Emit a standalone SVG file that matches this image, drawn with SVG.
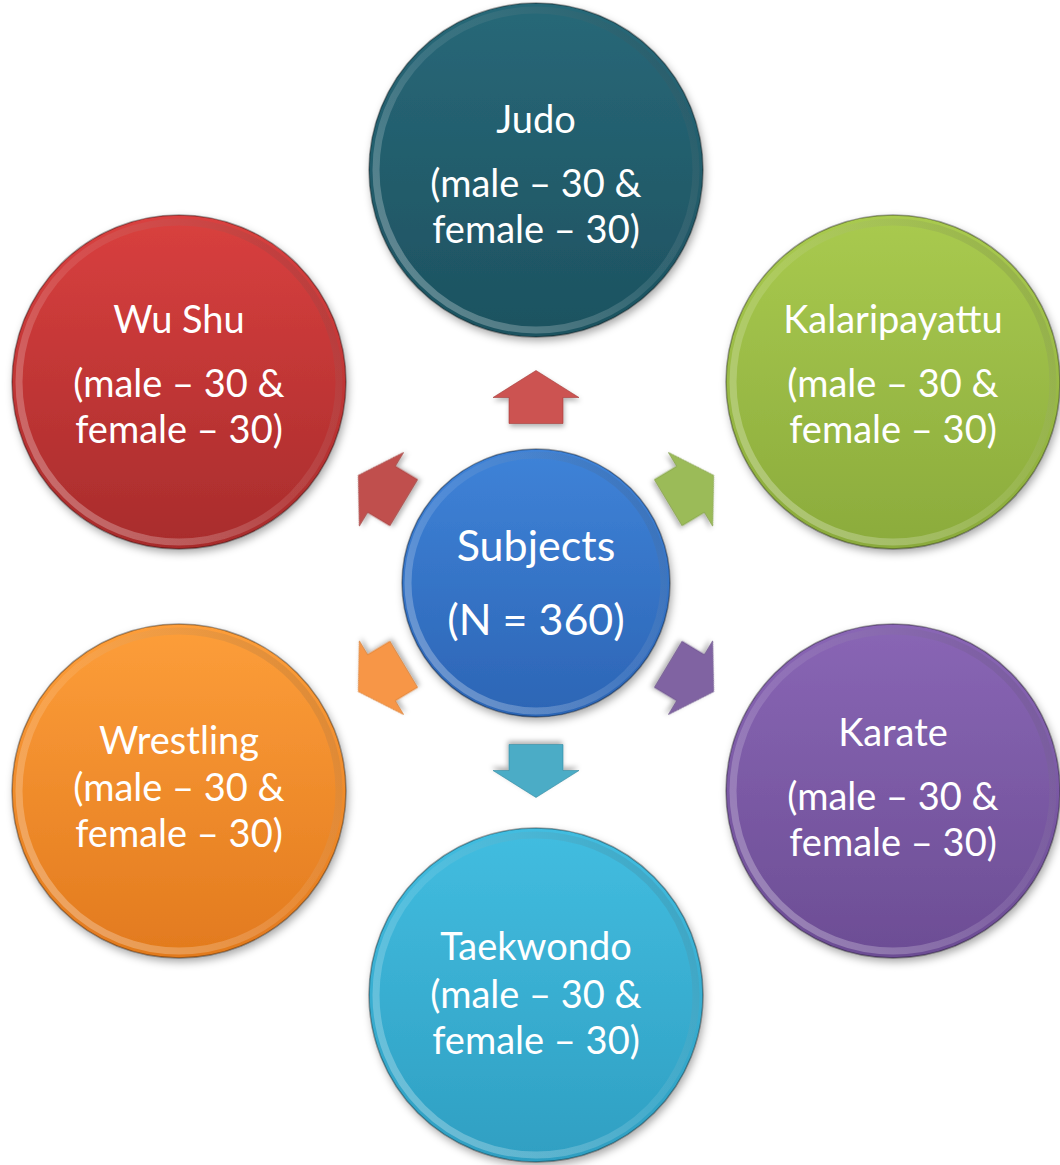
<svg xmlns="http://www.w3.org/2000/svg" width="1060" height="1165" viewBox="0 0 1060 1165">
<style>
text{font-family:Lato,"Liberation Sans",sans-serif;fill:#fff;text-anchor:middle;font-size:38px}
.big{font-size:43px}
.rim{fill:none;stroke:url(#rim);stroke-width:7}
.edge{fill:none;stroke:#000;stroke-opacity:.35;stroke-width:1.5}
.arr{stroke-width:1;stroke-opacity:.6;filter:url(#sh2)}
</style>
<defs>
<filter id="sh" x="-20%" y="-20%" width="140%" height="140%"><feDropShadow dx="2" dy="4" stdDeviation="4" flood-opacity=".35"/></filter>
<filter id="sh2" x="-40%" y="-40%" width="180%" height="180%"><feDropShadow dx="1" dy="3" stdDeviation="2.5" flood-opacity=".3"/></filter>
<linearGradient id="rim" x1="0" y1="1" x2="1" y2="0">
<stop offset="0" stop-color="#fff" stop-opacity=".35"/>
<stop offset=".5" stop-color="#fff" stop-opacity=".1"/>
<stop offset="1" stop-color="#000" stop-opacity=".15"/>
</linearGradient>
<linearGradient id="gJ" x1="0" y1="0" x2="0" y2="1"><stop offset="0" stop-color="#286878"/><stop offset="1" stop-color="#1d5260"/></linearGradient>
<linearGradient id="gW" x1="0" y1="0" x2="0" y2="1"><stop offset="0" stop-color="#d9403f"/><stop offset="1" stop-color="#a82c2c"/></linearGradient>
<linearGradient id="gK" x1="0" y1="0" x2="0" y2="1"><stop offset="0" stop-color="#a9ca4f"/><stop offset="1" stop-color="#8bab3c"/></linearGradient>
<linearGradient id="gR" x1="0" y1="0" x2="0" y2="1"><stop offset="0" stop-color="#fd9e3a"/><stop offset="1" stop-color="#e27a1e"/></linearGradient>
<linearGradient id="gP" x1="0" y1="0" x2="0" y2="1"><stop offset="0" stop-color="#8966b5"/><stop offset="1" stop-color="#6c4d94"/></linearGradient>
<linearGradient id="gT" x1="0" y1="0" x2="0" y2="1"><stop offset="0" stop-color="#42bde0"/><stop offset="1" stop-color="#2f9fc2"/></linearGradient>
<linearGradient id="gS" x1="0" y1="0" x2="0" y2="1"><stop offset="0" stop-color="#3f83d8"/><stop offset="1" stop-color="#2c65b5"/></linearGradient>
<path id="ar" d="M0,-26.5 L43,0.5 L27,0.5 L27,26.5 L-27,26.5 L-27,0.5 L-43,0.5 Z"/>
</defs>

<g id="connectors">
<use href="#ar" class="arr" fill="#cc5351" stroke="#a33d3b" transform="translate(536,397)"/>
<use href="#ar" class="arr" fill="#9bbb59" stroke="#7a9640" transform="translate(691,489) rotate(59)"/>
<use href="#ar" class="arr" fill="#8064a2" stroke="#644c84" transform="translate(691,678) rotate(121)"/>
<use href="#ar" class="arr" fill="#4bacc6" stroke="#3489a0" transform="translate(536,771) rotate(180)"/>
<use href="#ar" class="arr" fill="#f79646" stroke="#d2772c" transform="translate(381,678) rotate(-121)"/>
<use href="#ar" class="arr" fill="#c0504d" stroke="#9a3c3a" transform="translate(381,489) rotate(-59)"/>
</g>

<g id="judo">
<circle cx="536" cy="170" r="167" fill="url(#gJ)" filter="url(#sh)"/>
<circle cx="536" cy="170" r="160" class="rim"/>
<circle cx="536" cy="170" r="167" class="edge"/>
<text x="536" y="133">Judo</text>
<text x="536" y="197">(male – 30 &amp;</text>
<text x="536" y="243">female – 30)</text>
</g>

<g id="wushu">
<circle cx="179" cy="382" r="167" fill="url(#gW)" filter="url(#sh)"/>
<circle cx="179" cy="382" r="160" class="rim"/>
<circle cx="179" cy="382" r="167" class="edge"/>
<text x="179" y="333">Wu Shu</text>
<text x="179" y="397">(male – 30 &amp;</text>
<text x="179" y="443">female – 30)</text>
</g>

<g id="kalaripayattu">
<circle cx="893" cy="382" r="167" fill="url(#gK)" filter="url(#sh)"/>
<circle cx="893" cy="382" r="160" class="rim"/>
<circle cx="893" cy="382" r="167" class="edge"/>
<text x="893" y="333">Kalaripayattu</text>
<text x="893" y="397">(male – 30 &amp;</text>
<text x="893" y="443">female – 30)</text>
</g>

<g id="wrestling">
<circle cx="179" cy="791" r="167" fill="url(#gR)" filter="url(#sh)"/>
<circle cx="179" cy="791" r="160" class="rim"/>
<circle cx="179" cy="791" r="167" class="edge"/>
<text x="179" y="754">Wrestling</text>
<text x="179" y="801">(male – 30 &amp;</text>
<text x="179" y="847">female – 30)</text>
</g>

<g id="karate">
<circle cx="893" cy="791" r="167" fill="url(#gP)" filter="url(#sh)"/>
<circle cx="893" cy="791" r="160" class="rim"/>
<circle cx="893" cy="791" r="167" class="edge"/>
<text x="893" y="746">Karate</text>
<text x="893" y="810">(male – 30 &amp;</text>
<text x="893" y="856">female – 30)</text>
</g>

<g id="taekwondo">
<circle cx="536" cy="995" r="167" fill="url(#gT)" filter="url(#sh)"/>
<circle cx="536" cy="995" r="160" class="rim"/>
<circle cx="536" cy="995" r="167" class="edge"/>
<text x="536" y="960">Taekwondo</text>
<text x="536" y="1008">(male – 30 &amp;</text>
<text x="536" y="1054">female – 30)</text>
</g>

<g id="subjects">
<circle cx="536" cy="583" r="134" fill="url(#gS)" filter="url(#sh)"/>
<circle cx="536" cy="583" r="128" class="rim"/>
<circle cx="536" cy="583" r="134" class="edge"/>
<text x="536" y="561" class="big">Subjects</text>
<text x="536" y="635" class="big">(N = 360)</text>
</g>
</svg>
